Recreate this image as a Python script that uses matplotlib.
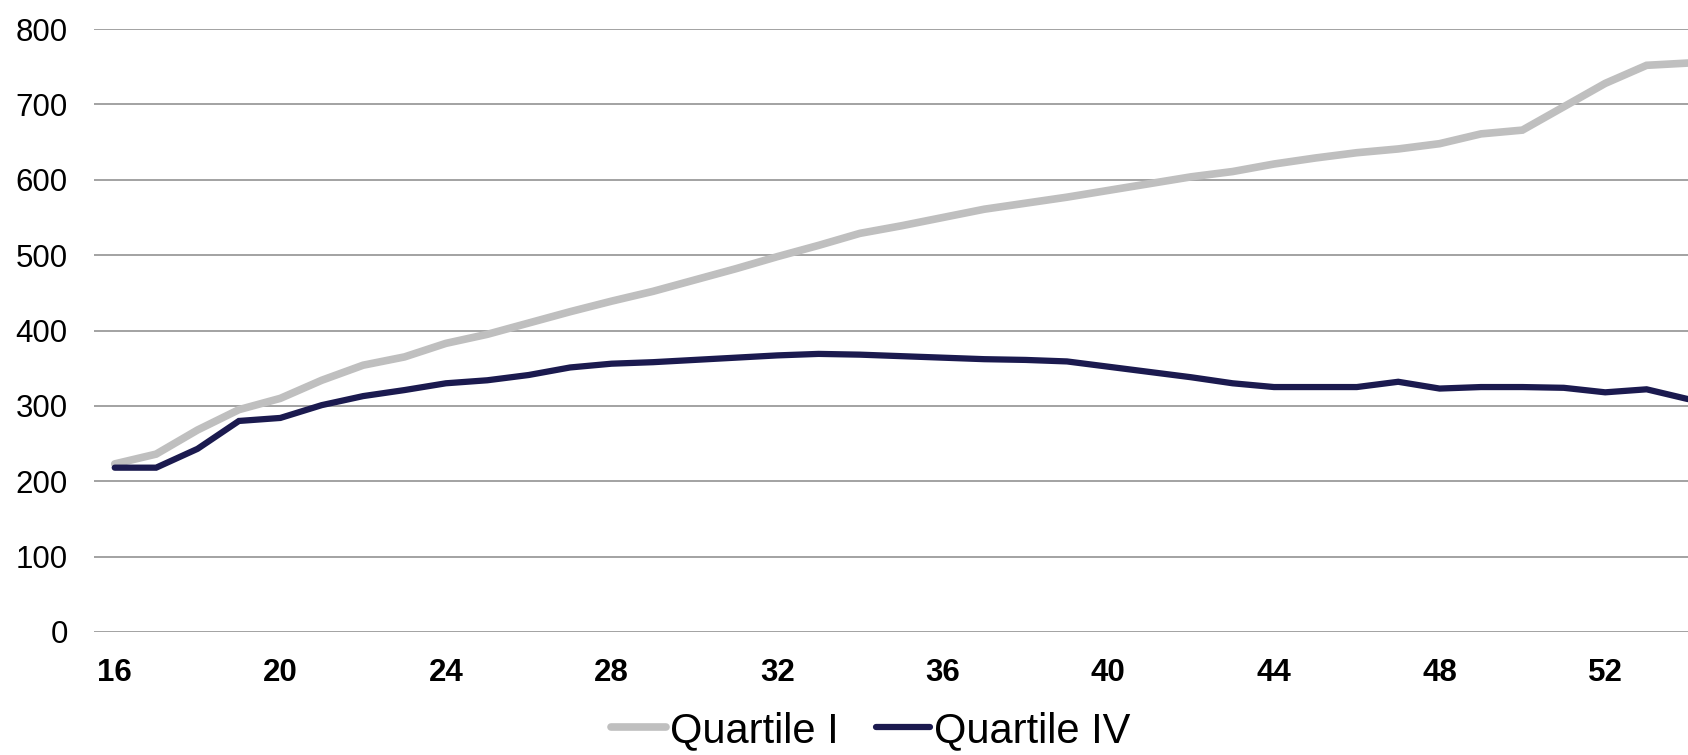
import numpy as np
import matplotlib.pyplot as plt

plt.rcParams['font.family'] = ['Liberation Sans', 'DejaVu Sans']

# Datos
edad = np.arange(16, 55)
quartile_1 = [223, 236, 268, 295, 310, 334, 354, 365, 383, 395, 410, 425, 439,
              452, 467, 482, 498, 513, 529, 539, 550, 561, 569, 577, 586, 595,
              604, 611, 621, 629, 636, 641, 648, 661, 666, 697, 728, 752, 755]
quartile_4 = [218, 218, 243, 280, 284, 301, 313, 321, 330, 334, 341, 351, 356,
              358, 361, 364, 367, 369, 368, 366, 364, 362, 361, 359, 352, 345,
              338, 330, 325, 325, 325, 332, 323, 325, 325, 324, 318, 322, 309]

fig = plt.figure(figsize=(16.88, 7.55), dpi=100)
ax = fig.add_axes([0.0557, 0.163, 0.9443, 0.7984])

ax.plot(edad, quartile_1, color='#BFBFBF', linewidth=5.5, label='Quartile I',
        solid_capstyle='round', solid_joinstyle='miter')
ax.plot(edad, quartile_4, color='#1B1A4F', linewidth=4.5, label='Quartile IV',
        solid_capstyle='round', solid_joinstyle='miter')

ax.set_xlim(15.5, 54)
ax.set_ylim(0, 800)
ax.set_yticks(range(0, 801, 100))
ax.set_xticks(range(16, 54, 4))
ax.grid(axis='y', color='#898989', linewidth=1.1)
ax.set_axisbelow(True)
for s in ax.spines.values():
    s.set_visible(False)
ax.tick_params(axis='both', length=0, labelsize=22.5)
ax.tick_params(axis='y', pad=19)
ax.tick_params(axis='x', pad=19)
for lbl in ax.get_xticklabels():
    lbl.set_fontweight('bold')

fig.legend(loc='center', bbox_to_anchor=(0.516, 0.032), ncol=2, frameon=False,
           fontsize=30, handlelength=1.3, handletextpad=0.1, columnspacing=0.9)

plt.savefig('out.png', dpi=100)
